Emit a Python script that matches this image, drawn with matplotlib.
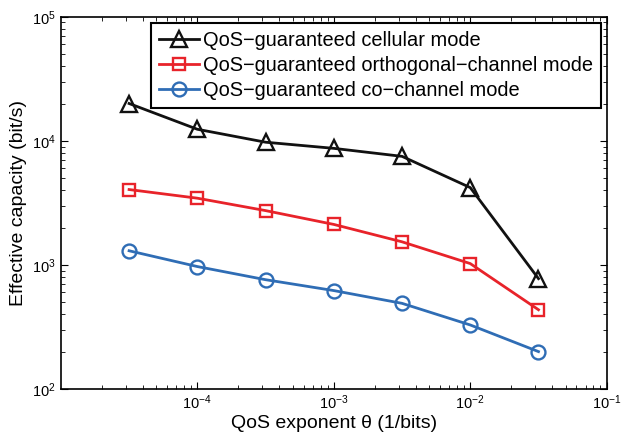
import numpy as np
import matplotlib
matplotlib.use('Agg')
import matplotlib.pyplot as plt

plt.rcParams['font.family'] = ['Liberation Sans', 'DejaVu Sans']
plt.rcParams['mathtext.fontset'] = 'custom'
plt.rcParams['mathtext.rm'] = 'Liberation Sans'

theta = [10**-4.5, 1e-4, 10**-3.5, 1e-3, 10**-2.5, 1e-2, 10**-1.5]
cellular = [20000, 12400, 9750, 8700, 7500, 4200, 775]
orthogonal = [4050, 3450, 2740, 2120, 1535, 1025, 435]
cochannel = [1300, 970, 760, 621, 490, 328, 200]
labels = ['QoS\u2212guaranteed cellular mode',
          'QoS\u2212guaranteed orthogonal\u2212channel mode',
          'QoS\u2212guaranteed co\u2212channel mode']

fig = plt.figure(figsize=(6.21, 4.42), dpi=100)
ax = fig.add_axes([0.098, 0.12, 0.879, 0.842])

ax.plot(theta, cellular, color='#111111', marker='^', ms=11, mfc='none', mew=1.7, lw=2, label=labels[0])
ax.plot(theta, orthogonal, color='#e8232a', marker='s', ms=9, mfc='none', mew=1.7, lw=2, label=labels[1])
ax.plot(theta, cochannel, color='#2f6db5', marker='o', ms=10, mfc='none', mew=1.7, lw=2, label=labels[2])

ax.set_xscale('log')
ax.set_yscale('log')
ax.set_xlim(1e-5, 1e-1)
ax.set_ylim(1e2, 1e5)
ax.set_xticks([1e-4, 1e-3, 1e-2, 1e-1])
ax.tick_params(which='both', direction='in', top=True, right=True, labelsize=10.5)
ax.tick_params(which='major', length=5)
ax.tick_params(which='minor', length=3)
for s in ax.spines.values():
    s.set_linewidth(1.2)

ax.set_xlabel('QoS exponent \u03b8 (1/bits)', fontsize=14, labelpad=2)
ax.set_ylabel('Effective capacity (bit/s)', fontsize=14, labelpad=4)

leg = ax.legend(loc='upper right', fontsize=14.4, fancybox=False, framealpha=1,
                edgecolor='black', borderaxespad=0.3, handlelength=2.0,
                handletextpad=0.2, borderpad=0.4, labelspacing=0.3)
leg.get_frame().set_linewidth(1.5)

fig.savefig('out.png', dpi=100)
